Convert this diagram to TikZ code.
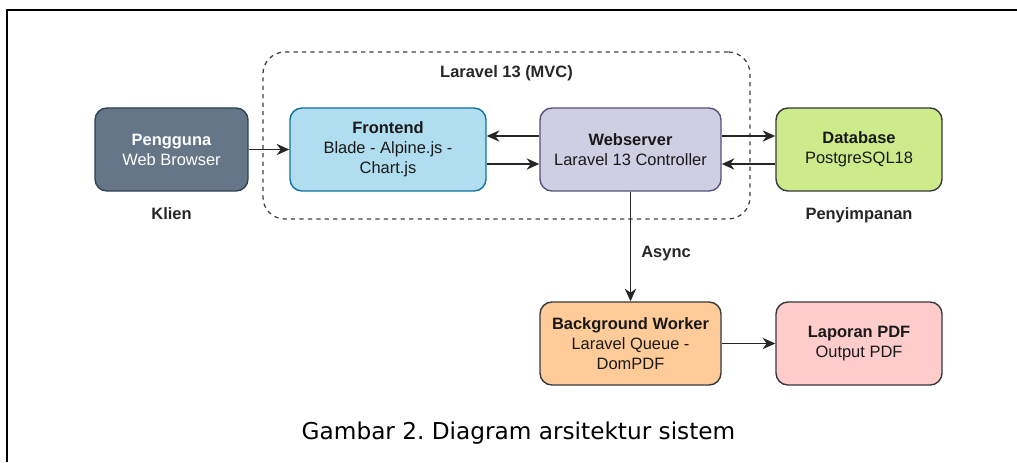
\documentclass[tikz,border=0pt]{standalone}
\usepackage{fontspec}
\setmainfont{Liberation Sans}
\newfontfamily\captionfont{DejaVu Sans}
\usepackage{xcolor}
\usetikzlibrary{arrows.meta, positioning}

\definecolor{userfill}{HTML}{647687}
\definecolor{userline}{HTML}{314354}
\definecolor{frontfill}{HTML}{B1DDF0}
\definecolor{frontline}{HTML}{10739E}
\definecolor{webfill}{HTML}{D0CEE2}
\definecolor{webline}{HTML}{56517E}
\definecolor{dbfill}{HTML}{CDEB8B}
\definecolor{workerfill}{HTML}{FFCC99}
\definecolor{pdffill}{HTML}{FFCCCC}
\definecolor{boxline}{HTML}{36393D}

\tikzset{
  boxtext/.style={font=\fontsize{11.7}{14.2}\selectfont, text=black!90},
  box/.style={draw, boxtext, rounded corners=0.3cm, line width=1pt,
    minimum height=2.075cm, inner sep=0pt, align=center},
  tag/.style={font=\fontsize{11.7}{14.2}\selectfont\bfseries, text=black!85, inner sep=0pt},
  arr/.style={-{Stealth[length=9pt, width=8pt]}, line width=1.2pt, black!85},
}

\begin{document}
\begin{tikzpicture}[x=0.025cm, y=-0.025cm]
\useasboundingbox (0,0) rectangle (1017,462);
%% page frame
\draw[line width=1.4pt] (7,462) -- (7,10) -- (1017,10);
%% laravel group
\node[draw=black!75, dashed, line width=0.9pt, rounded corners=0.55cm,
  minimum width=12.175cm, minimum height=4.175cm] (mvc) at (506.5,135.5) {};
\node[tag] (mvclabel) at (506.5,73) {Laravel 13 (MVC)};
%% components
\node[box, fill=userfill, draw=userline, text=white, minimum width=3.825cm]
  (user) at (171.5,149.5) {\textbf{Pengguna}\\Web Browser};
\node[box, fill=frontfill, draw=frontline, minimum width=4.9cm]
  (front) at (388,149.5) {\textbf{Frontend}\\Blade - Alpine.js -\\Chart.js};
\node[box, fill=webfill, draw=webline, minimum width=4.525cm]
  (web) at (630.5,149.5) {\textbf{Webserver}\\Laravel 13 Controller};
\node[box, fill=dbfill, draw=boxline, minimum width=4.15cm]
  (db) at (859,149.5) {\textbf{Database}\\PostgreSQL18};
\node[box, fill=workerfill, draw=boxline, minimum width=4.525cm]
  (worker) at (630.5,343.5) {\textbf{Background Worker}\\Laravel Queue -\\DomPDF};
\node[box, fill=pdffill, draw=boxline, minimum width=4.15cm]
  (pdf) at (859,343.5) {\textbf{Laporan PDF}\\Output PDF};
%% captions under boxes
\node[tag, below=0.4cm of user] (klien) {Klien};
\node[tag, below=0.4cm of db] (storage) {Penyimpanan};
%% connectors
\draw[arr] (user) -- (front);
\draw[arr] (web.west |- 0,136) -- (front.east |- 0,136);
\draw[arr] (front.east |- 0,164) -- (web.west |- 0,164);
\draw[arr] (web.east |- 0,136) -- (db.west |- 0,136);
\draw[arr] (db.west |- 0,164) -- (web.east |- 0,164);
\draw[arr] (web) -- node[tag, pos=0.56, right=0.25cm] (async) {Async} (worker);
\draw[arr] (worker) -- (pdf);
%% figure caption
\node[font=\captionfont\fontsize{16.5}{20}\selectfont] (caption) at (518.5,433)
  {Gambar 2.\ Diagram arsitektur sistem};
\end{tikzpicture}
\end{document}
